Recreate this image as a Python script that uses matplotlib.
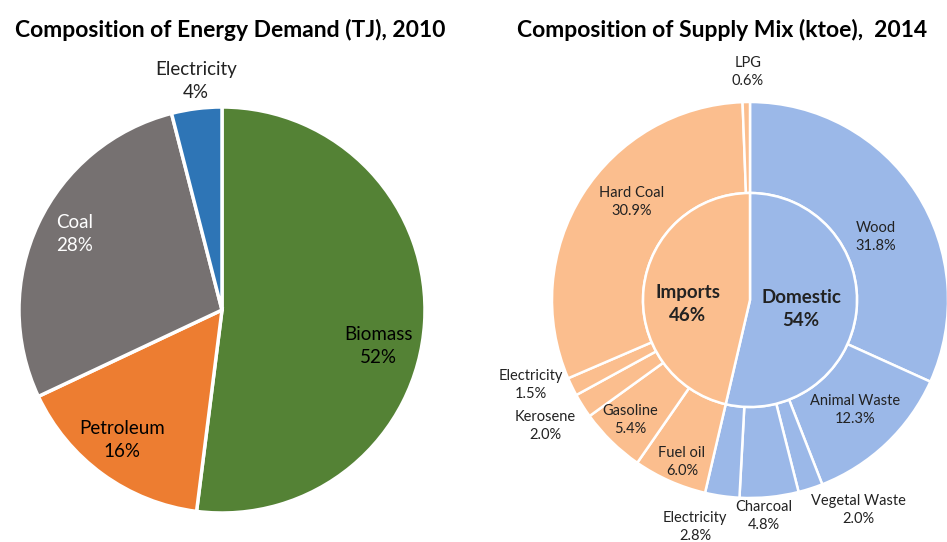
import matplotlib
matplotlib.use("Agg")
import matplotlib.pyplot as plt

plt.rcParams['font.family'] = ['Lato', 'DejaVu Sans']

# ---- Data ----
demand_labels = ["Biomass", "Petroleum", "Coal", "Electricity"]
demand_values = [52, 16, 28, 4]
demand_colors = ["#548235", "#ED7D31", "#767171", "#2E75B6"]

domestic_labels = ["Wood", "Animal Waste", "Vegetal Waste", "Charcoal", "Electricity"]
domestic_values = [31.8, 12.3, 2.0, 4.8, 2.8]
imports_labels = ["Fuel oil", "Gasoline", "Kerosene", "Electricity", "Hard Coal", "LPG"]
imports_values = [6.0, 5.4, 2.0, 1.5, 30.9, 0.6]
group_labels = ["Domestic", "Imports"]
group_pct_text = ["54%", "46%"]
blue = "#9BB8E8"
peach = "#FBBE8E"

fig = plt.figure(figsize=(9.47, 5.42), dpi=100)
ax = fig.add_axes([0, 0, 1, 1])
H = 542

# ---- Left pie ----
ax.pie(demand_values, startangle=90, counterclock=False, center=(222, H - 310),
       radius=203, colors=demand_colors,
       wedgeprops=dict(edgecolor="white", linewidth=2.5))

left_label_pos = [(378, 346, "black"), (122, 440, "black"), (75, 234, "white"), (196, 81, "#222222")]
for lab, v, (x, y, c) in zip(demand_labels, demand_values, left_label_pos):
    ax.text(x, H - y, f"{lab}\n{v}%", ha="center", va="center", fontsize=13.5,
            color=c, linespacing=1.45)

# ---- Right sunburst ----
outer_values = domestic_values + imports_values
outer_labels = domestic_labels + imports_labels
outer_colors = [blue] * len(domestic_values) + [peach] * len(imports_values)
inner_values = [sum(domestic_values), sum(imports_values)]
cR = (750, H - 300)
ax.pie(outer_values, startangle=90, counterclock=False, center=cR, radius=198,
       colors=outer_colors,
       wedgeprops=dict(width=91, edgecolor="white", linewidth=1.8))
ax.pie(inner_values, startangle=90, counterclock=False, center=cR, radius=107,
       colors=[blue, peach],
       wedgeprops=dict(edgecolor="white", linewidth=1.8))

outer_label_pos = [(876, 237), (855, 410), (858, 510), (764, 516), (695, 527),
                   (682, 462), (630, 420), (545, 426), (531, 385), (632, 202), (748, 72)]
for lab, v, (x, y) in zip(outer_labels, outer_values, outer_label_pos):
    ax.text(x, H - y, f"{lab}\n{v:.1f}%", ha="center", va="center", fontsize=10.5,
            color="#222222", linespacing=1.3)

inner_label_pos = [(801, 309), (688, 304)]
for lab, t, (x, y) in zip(group_labels, group_pct_text, inner_label_pos):
    ax.text(x, H - y, f"{lab}\n{t}", ha="center", va="center", fontsize=13.5,
            fontweight="bold", color="#222222", linespacing=1.45)

# ---- Titles ----
ax.text(230, H - 30, "Composition of Energy Demand (TJ), 2010", ha="center", va="center",
        fontsize=16.5, fontweight="bold", color="black")
ax.text(722, H - 30, "Composition of Supply Mix (ktoe),  2014", ha="center", va="center",
        fontsize=16.5, fontweight="bold", color="black")

ax.set_xlim(0, 947)
ax.set_ylim(0, H)
ax.set_aspect("equal")
ax.axis("off")

fig.savefig("out.png", dpi=100, facecolor="white")
